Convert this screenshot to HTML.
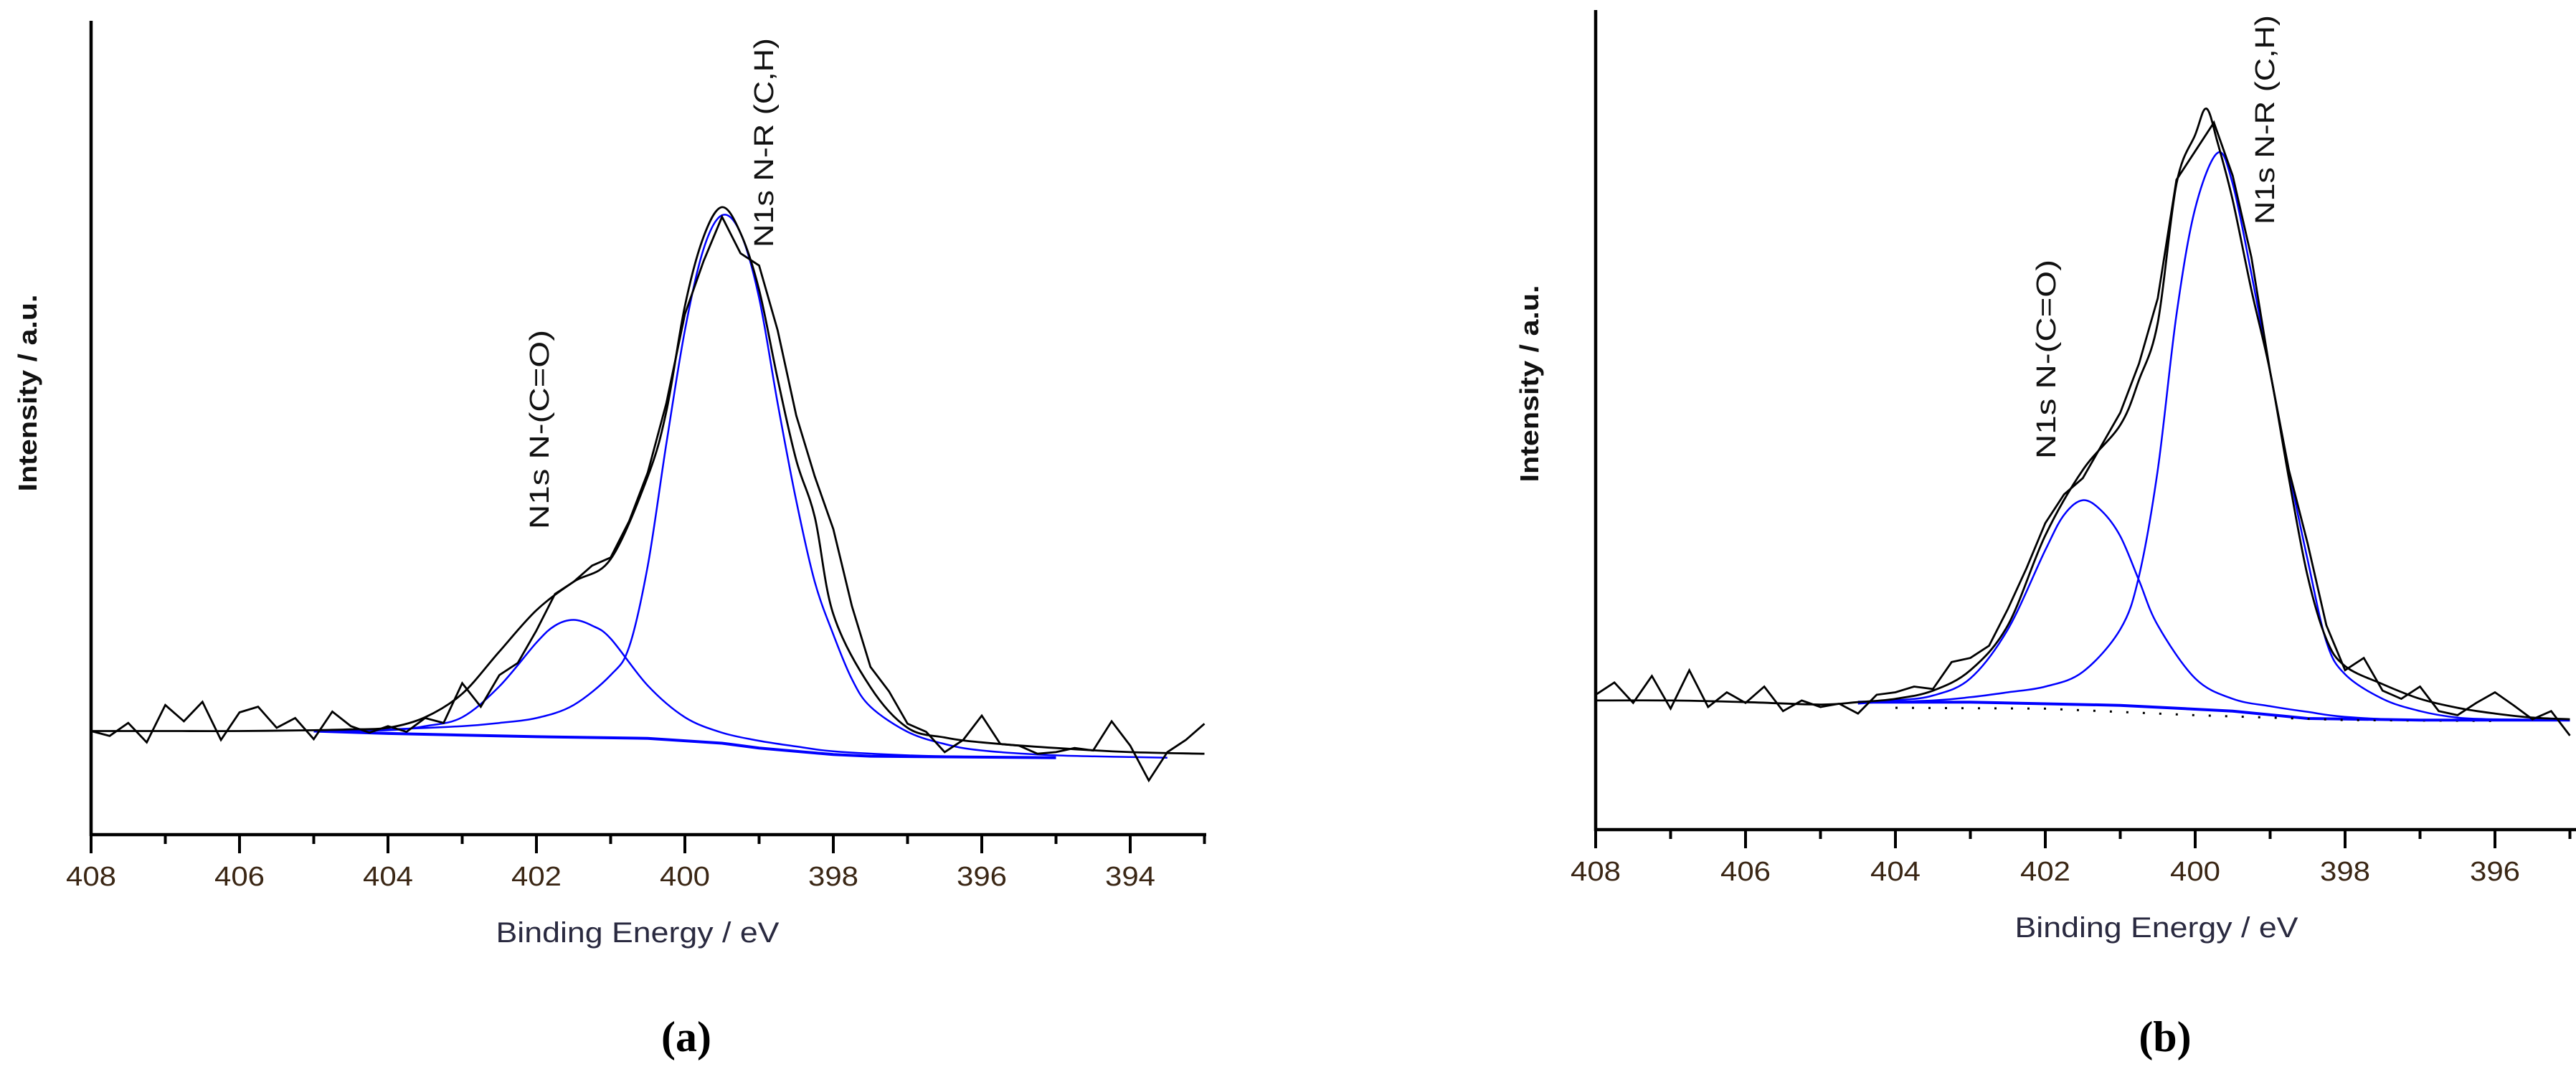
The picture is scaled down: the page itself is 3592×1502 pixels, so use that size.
<!DOCTYPE html>
<html>
<head>
<meta charset="utf-8">
<style>
html,body{margin:0;padding:0;background:#fff;}
svg{display:block;}
text{font-family:"Liberation Sans",sans-serif;}
text.cap{font-family:"Liberation Serif",serif;}
</style>
</head>
<body>
<svg id="fig" width="3592" height="1502" viewBox="0 0 3592 1502" xmlns="http://www.w3.org/2000/svg"></svg>
<script>
// ---------- Panel (a) data ----------
const aTickLabels = ["408","406","404","402","400","398","396","394"];
const aTickValues = [408,406,404,402,400,398,396,394];
const aRawStart = 408, aRawStep = 0.25;
const aRaw = [12.6,12.0,13.6,11.2,15.8,13.8,16.2,11.5,14.9,15.6,
  13.0,14.2,11.6,15.0,13.2,12.4,13.2,12.5,14.2,13.6,
  18.5,15.6,19.5,21.0,25.0,29.5,31.0,33.0,34.0,38.5,
  44.5,53.0,64.0,70.5,76.0,71.5,70.0,62.0,51.5,44.0,
  37.5,28.0,20.5,17.5,13.5,12.5,10.0,11.5,14.5,11.0,
  10.8,9.8,10.0,10.5,10.2,13.8,10.8,6.5,10.0,11.5,13.5];
const aEnvX = [408,407,406,405,404.5,404,403.5,403,402.5,402,401.5,401,400.5,400.25,400,399.75,399.5,399.25,399,398.75,398.5,398.25,398,397.5,397,396.5,396,395,394,393];
const aEnvY = [12.6,12.6,12.6,12.7,12.8,13.0,14.3,17.2,22.4,27.5,31.0,33.8,44.0,52.0,65.0,73.5,77.2,74.0,67.0,56.0,46.0,39.0,27.0,18.0,13.0,11.8,11.2,10.5,10.0,9.8];
const aMainX = [405,404,403,402.5,402,401.5,401,400.75,400.5,400.25,400,399.75,399.5,399.25,399,398.75,398.5,398.25,398,397.75,397.5,397,396.5,396,395,394,393.5];
const aMainY = [12.6,12.8,13.2,13.6,14.2,15.8,19.5,23.0,33.0,48.0,62.0,72.0,76.2,74.0,66.0,53.0,41.0,31.0,24.5,19.0,15.6,12.5,11.0,10.2,9.6,9.4,9.3];
const aSmallX = [405,404,403.5,403,402.5,402,401.75,401.5,401.25,401,400.5,400,399.5,399,398.5,398,397,396,395];
const aSmallY = [12.6,12.7,13.2,14.3,18.1,23.5,25.6,26.3,25.6,24.0,18.2,14.3,12.4,11.4,10.7,10.1,9.6,9.4,9.3];
const aBgX = [405,404,402,400.5,399.5,399,398,397.5,395];
const aBgY = [12.6,12.3,11.9,11.7,11.1,10.5,9.7,9.5,9.3];

// ---------- Panel (b) data ----------
const bTickLabels = ["408","406","404","402","400","398","396"];
const bTickValues = [408,406,404,402,400,398,396];
const bRawStart = 408, bRawStep = 0.25;
const bRaw = [16.5,18.0,15.5,18.8,14.8,19.5,15.0,16.8,15.5,17.5,
  14.5,15.8,15.0,15.4,14.2,16.5,16.8,17.5,17.2,20.5,
  21.0,22.5,27.0,32.0,37.5,41.0,43.0,47.0,51.0,57.0,
  65.0,79.5,83.0,86.5,80.0,70.0,56.0,44.0,35.0,25.0,
  19.5,21.0,17.0,16.0,17.5,14.5,14.0,15.5,16.8,15.2,
  13.5,14.5,11.5];
const bEnvX = [408,407,406,405,404.5,404,403.5,403,402.5,402,401.5,401,400.75,400.5,400.25,400,399.85,399.7,399.5,399.25,399,398.75,398.5,398.25,398,397.5,397,396.5,396,395.5,395];
const bEnvY = [15.8,15.8,15.6,15.3,15.6,16.0,17.0,19.5,25.0,36.0,44.0,49.5,55.0,62.0,79.0,85.0,88.2,84.0,77.0,66.0,56.0,43.0,31.0,23.3,20.0,17.8,16.0,14.9,14.2,13.7,13.5];
const bMainX = [404.5,403.5,403,402.5,402,401.5,401,400.75,400.5,400.25,400,399.7,399.5,399.25,399,398.75,398.5,398.25,398,397.5,397,396.5,396,395];
const bMainY = [15.5,15.8,16.2,16.8,17.5,19.3,24.5,31.0,44.0,63.0,76.0,82.8,79.0,68.0,56.0,44.0,33.0,23.0,19.0,16.0,14.5,13.7,13.5,13.4];
const bSmallX = [404.5,404,403.5,403,402.5,402,401.75,401.5,401.25,401,400.75,400.5,400,399.5,399,398.5,398,397,395];
const bSmallY = [15.4,15.8,16.4,18.5,24.5,34.2,38.5,40.3,39.0,35.9,30.5,25.0,18.5,16.0,15.1,14.4,13.8,13.4,13.4];
const bBgX = [404.5,403,401,399.5,398.5,397,395];
const bBgY = [15.6,15.6,15.2,14.5,13.6,13.4,13.4];
const bDotX = [404,402,400,398,396];
const bDotY = [14.9,14.8,14.0,13.4,13.3];

const NS = "http://www.w3.org/2000/svg";
const svg = document.getElementById("fig");

function mk(tag, attrs, parent){
  const e = document.createElementNS(NS, tag);
  for (const k in attrs) e.setAttribute(k, attrs[k]);
  (parent||svg).appendChild(e);
  return e;
}

function smoothPath(pts){
  if (pts.length < 2) return "";
  let d = "M" + pts[0][0].toFixed(1) + "," + pts[0][1].toFixed(1);
  for (let i = 0; i < pts.length - 1; i++){
    const p0 = pts[i-1] || pts[i], p1 = pts[i], p2 = pts[i+1], p3 = pts[i+2] || p2;
    const c1x = p1[0] + (p2[0]-p0[0])/6, c1y = p1[1] + (p2[1]-p0[1])/6;
    const c2x = p2[0] - (p3[0]-p1[0])/6, c2y = p2[1] - (p3[1]-p1[1])/6;
    d += "C" + c1x.toFixed(1)+","+c1y.toFixed(1)+" "+c2x.toFixed(1)+","+c2y.toFixed(1)+" "+p2[0].toFixed(1)+","+p2[1].toFixed(1);
  }
  return d;
}
function linePath(pts){
  return pts.map((p,i)=>(i?"L":"M")+p[0].toFixed(1)+","+p[1].toFixed(1)).join("");
}

function panel(cfg){
  const g = mk("g", {});
  
  
  const sx = v => cfg.x0 + (cfg.e0 - v) * cfg.pxPerEv;
  const sy = v => cfg.yBase - v * cfg.pxPerUnit;

  const yAxis = mk("line", {x1:cfg.x0, y1:cfg.top, x2:cfg.x0, y2:cfg.axisY+2, stroke:"#000","stroke-width":4.5}, g);
  
  
  const xAxis = mk("line", {x1:cfg.x0-2, y1:cfg.axisY, x2:cfg.xRight, y2:cfg.axisY, stroke:"#000","stroke-width":4.5}, g);
  
  

  for (let e = cfg.e0; e >= cfg.eEnd - 0.001; e -= 1){
    const major = Math.round(e) % 2 === 0;
    const t = mk("line", {x1:sx(e), y1:cfg.axisY, x2:sx(e), y2:cfg.axisY + (major?26:13), stroke:"#000","stroke-width":4}, g);
    
    
  }
  cfg.tickValues.forEach((v,i)=>{
    const t = mk("text", {x:sx(v), y:cfg.axisY+71, "text-anchor":"middle","font-size":38, fill:"#3a2614", textLength:70, lengthAdjust:"spacingAndGlyphs"}, g);
    t.textContent = cfg.tickLabels[i];
    
    
  });

  const xt = mk("text", {x:cfg.xTitleX, y:cfg.axisY+150, "text-anchor":"middle","font-size":40, fill:"#2a2a40", textLength:395, lengthAdjust:"spacingAndGlyphs"}, g);
  xt.textContent = "Binding Energy / eV";
  
  
  const yt = mk("text", {x:0, y:0, "text-anchor":"middle","font-size":36, "font-weight":"bold", fill:"#111", textLength:275, lengthAdjust:"spacingAndGlyphs", transform:"translate("+cfg.yTitleX+","+cfg.yTitleY+") rotate(-90)"}, g);
  yt.textContent = "Intensity / a.u.";
  
  

  const bg = mk("path", {d:linePath(cfg.bgX.map((x,i)=>[sx(x), sy(cfg.bgY[i])])), fill:"none", stroke:"#0000ff","stroke-width":4}, g);
  
  
  if (cfg.dotX){
    const dt = mk("path", {d:linePath(cfg.dotX.map((x,i)=>[sx(x), sy(cfg.dotY[i])])), fill:"none", stroke:"#000","stroke-width":3,"stroke-dasharray":"3 20"}, g);
    
    
  }
  const sm = mk("path", {d:smoothPath(cfg.smallX.map((x,i)=>[sx(x), sy(cfg.smallY[i])])), fill:"none", stroke:"#0000ff","stroke-width":2.5}, g);
  
  
  const mn = mk("path", {d:smoothPath(cfg.mainX.map((x,i)=>[sx(x), sy(cfg.mainY[i])])), fill:"none", stroke:"#0000ff","stroke-width":2.5}, g);
  
  
  const ev = mk("path", {d:smoothPath(cfg.envX.map((x,i)=>[sx(x), sy(cfg.envY[i])])), fill:"none", stroke:"#000","stroke-width":2.8}, g);
  
  
  const raw = mk("path", {d:linePath(cfg.raw.map((v,i)=>[sx(cfg.rawStart - i*cfg.rawStep), sy(v)])), fill:"none", stroke:"#000","stroke-width":2.8,"stroke-linejoin":"miter"}, g);
  
  

  const a1 = mk("text", {x:0,y:0,"text-anchor":"middle","font-size":38, fill:"#111", textLength:278, lengthAdjust:"spacingAndGlyphs", transform:"translate("+(cfg.ann1X+13)+","+cfg.ann1Y+") rotate(-90)"}, g);
  a1.textContent = "N1s N-(C=O)";
  
  
  const a2 = mk("text", {x:0,y:0,"text-anchor":"middle","font-size":38, fill:"#111", textLength:292, lengthAdjust:"spacingAndGlyphs", transform:"translate("+(cfg.ann2X+13)+","+cfg.ann2Y+") rotate(-90)"}, g);
  a2.textContent = "N1s N-R (C,H)";
  
  

  const cap = mk("text", {x:cfg.capX, y:1466, "text-anchor":"middle","font-size":60,"font-weight":"bold", fill:"#000", "class":"cap"}, g);
  cap.textContent = cfg.caption;
  
  
}

panel({
  name:"panel-a", x0:127, e0:408, eEnd:393, pxPerEv:103.5, xRight:1682,
  top:29, axisY:1164, yBase:1162, pxPerUnit:11.31,
  tickLabels:aTickLabels, tickValues:aTickValues,
  raw:aRaw, rawStart:aRawStart, rawStep:aRawStep,
  envX:aEnvX, envY:aEnvY, mainX:aMainX, mainY:aMainY, smallX:aSmallX, smallY:aSmallY,
  bgX:aBgX, bgY:aBgY,
  xTitleX:889, yTitleX:38+13, yTitleY:548,
  ann1X:752, ann1Y:599, ann2X:1065, ann2Y:199,
  caption:"(a)", capX:957
});
panel({
  name:"panel-b", x0:2225, e0:408, eEnd:395, pxPerEv:104.5, xRight:3592,
  top:14, axisY:1157, yBase:1157, pxPerUnit:11.4,
  tickLabels:bTickLabels, tickValues:bTickValues,
  raw:bRaw, rawStart:bRawStart, rawStep:bRawStep,
  envX:bEnvX, envY:bEnvY, mainX:bMainX, mainY:bMainY, smallX:bSmallX, smallY:bSmallY,
  bgX:bBgX, bgY:bBgY, dotX:bDotX, dotY:bDotY,
  xTitleX:3007, yTitleX:2132+13, yTitleY:535,
  ann1X:2853, ann1Y:501, ann2X:3158, ann2Y:167,
  caption:"(b)", capX:3019
});
</script>
</body>
</html>
